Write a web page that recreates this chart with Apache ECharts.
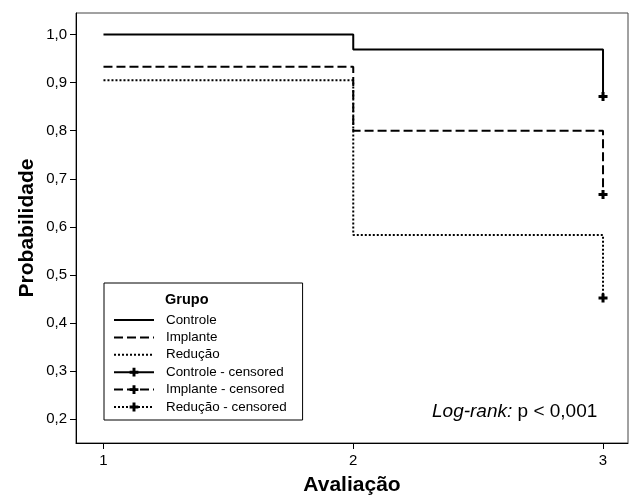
<!DOCTYPE html>
<html><head><meta charset="utf-8">
<script src="https://cdn.jsdelivr.net/npm/echarts@6/dist/echarts.min.js"></script>
<style>html,body{margin:0;padding:0;background:#fff}#c{width:630px;height:496px}</style>
</head><body><div id="c"></div>
<script>
const groups = ['Controle', 'Implante', 'Redução'];
const avaliacao = [1, 2, 3];
const controle = [1.0, 0.969, 0.871];
const implante = [0.933, 0.800, 0.667];
const reducao = [0.905, 0.583, 0.452];
const yTicks = [0.2, 0.3, 0.4, 0.5, 0.6, 0.7, 0.8, 0.9, 1.0];
const xTicks = [1, 2, 3];

const seriesValues = [controle, implante, reducao];
const lineTypes = ['solid', [9, 4], [2, 2]];
const plus = 'path://M3,0H6V3H9V6H6V9H3V6H0V3H3Z';
const font = 'Liberation Sans, Arial, sans-serif';

const series = [];
groups.forEach((g, i) => {
  series.push({
    name: g, type: 'line', step: 'end', symbol: 'none',
    data: avaliacao.map((x, j) => [x, seriesValues[i][j]]),
    lineStyle: {color: '#000', width: 2, type: lineTypes[i]},
    itemStyle: {color: '#000'}, silent: true, animation: false
  });
});
groups.forEach((g, i) => {
  const last = avaliacao.length - 1;
  series.push({
    name: g + ' - censored', type: 'line', symbol: plus, symbolSize: 9, showSymbol: true,
    data: [[avaliacao[last], seriesValues[i][last]]],
    lineStyle: {color: '#000', width: 2, type: lineTypes[i]},
    itemStyle: {color: '#000'}, silent: true, animation: false
  });
});

const legendData = series.map((s, i) => i < groups.length
  ? {name: s.name, itemStyle: {opacity: 0}}
  : {name: s.name});

const chart = echarts.init(document.getElementById('c'));
chart.setOption({
  backgroundColor: '#fff',
  animation: false,
  textStyle: {fontFamily: font},
  grid: {left: 76, right: 2, top: 13, bottom: 53, show: true, borderColor: '#444', borderWidth: 1,
    containLabel: false, outerBoundsMode: 'none'},
  xAxis: {
    type: 'value', min: 0.89, max: 3.1,
    splitLine: {show: false},
    axisLine: {show: true, lineStyle: {color: '#000', width: 1}},
    axisTick: {show: true, length: 6, lineStyle: {color: '#000'}, customValues: xTicks},
    axisLabel: {color: '#000', fontSize: 15, margin: 10, fontFamily: font, customValues: xTicks},
    name: 'Avaliação', nameLocation: 'middle', nameGap: 32, nameMoveOverlap: false,
    nameTextStyle: {color: '#000', fontSize: 21, fontWeight: 'bold', fontFamily: font}
  },
  yAxis: {
    type: 'value', min: 0.15, max: 1.045,
    splitLine: {show: false},
    axisLine: {show: true, lineStyle: {color: '#000', width: 1}},
    axisTick: {show: true, length: 6, lineStyle: {color: '#000'}, customValues: yTicks},
    axisLabel: {color: '#000', fontSize: 15, margin: 9, fontFamily: font, customValues: yTicks,
      formatter: v => v.toFixed(1).replace('.', ',')},
    name: 'Probabilidade', nameLocation: 'middle', nameGap: 38, nameRotate: 90, nameMoveOverlap: false,
    nameTextStyle: {color: '#000', fontSize: 21, fontWeight: 'bold', fontFamily: font}
  },
  legend: {
    orient: 'vertical', left: 104, top: 283,
    padding: [30, 16, 6, 9], itemGap: 3.4, itemWidth: 40, itemHeight: 11,
    borderColor: '#000', borderWidth: 1, backgroundColor: '#fff',
    textStyle: {color: '#000', fontSize: 13.4, lineHeight: 14, fontFamily: font, padding: [0, 0, 0, 7]},
    data: legendData
  },
  title: [{
    text: 'Grupo', left: 165, top: 292, padding: 0,
    textStyle: {color: '#000', fontSize: 14.5, fontWeight: 'bold', fontFamily: font}
  }, {
    text: '{i|Log-rank:} p < 0,001', left: 432, top: 402, padding: 0,
    textStyle: {rich: {i: {fontStyle: 'italic', fontSize: 19, color: '#000', fontFamily: font}},
      fontSize: 19, fontWeight: 'normal', color: '#000', fontFamily: font}
  }],
  series: series
});
</script></body></html>
